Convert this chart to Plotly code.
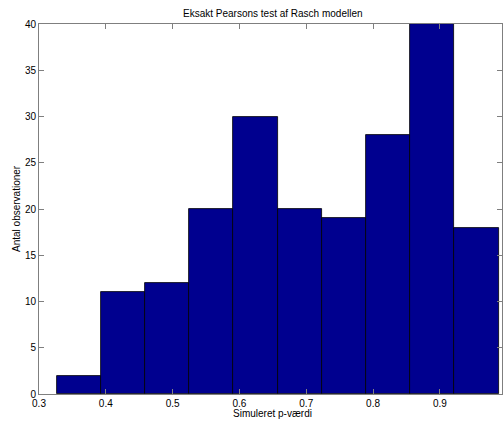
import plotly.graph_objects as go

counts = [2, 11, 12, 20, 30, 20, 19, 28, 40, 18]
bin_start = 0.3264
bin_width = 0.06616
x_ticks = [0.3, 0.4, 0.5, 0.6, 0.7, 0.8, 0.9]
y_ticks = [0, 5, 10, 15, 20, 25, 30, 35, 40]

centers = [bin_start + bin_width * (i + 0.5) for i in range(len(counts))]

fig = go.Figure(go.Bar(
    x=centers, y=counts, width=[bin_width] * len(counts),
    marker=dict(color="#00008F", line=dict(color="black", width=0.8)),
))

axis_common = dict(
    showgrid=False, zeroline=False, showline=True, linecolor="#7f7f7f",
    linewidth=1, mirror="ticks", ticks="inside", ticklen=5,
    tickcolor="#7f7f7f", tickfont=dict(size=10, color="black"),
    automargin=False,
)

fig.update_layout(
    width=503, height=422,
    margin=dict(l=39, r=1, t=24, b=28),
    paper_bgcolor="white", plot_bgcolor="white",
    font=dict(family="Liberation Sans, Arial, sans-serif", size=10, color="black"),
    showlegend=False, bargap=0,
    xaxis=dict(range=[0.3, 0.993], tickvals=x_ticks,
               ticktext=[f"{v:g}" for v in x_ticks], ticklabelstandoff=0,
               **axis_common),
    yaxis=dict(range=[0, 40], tickvals=y_ticks, **axis_common),
    annotations=[
        dict(text="Eksakt Pearsons test af Rasch modellen", xref="paper", yref="paper",
             x=0.505, y=1, yshift=11, xanchor="center", yanchor="middle",
             showarrow=False, font=dict(size=10)),
        dict(text="Simuleret p-værdi", xref="paper", yref="paper",
             x=0.505, y=0, yshift=-19, xanchor="center", yanchor="middle",
             showarrow=False, font=dict(size=10)),
        dict(text="Antal observationer", xref="paper", yref="paper",
             x=0, xshift=-23, y=0.5, textangle=-90, xanchor="center", yanchor="middle",
             showarrow=False, font=dict(size=10)),
    ],
)

fig.write_html("out.html", config={"displayModeBar": False},
               post_script="document.body.style.margin='0';document.body.style.overflow='hidden';")
